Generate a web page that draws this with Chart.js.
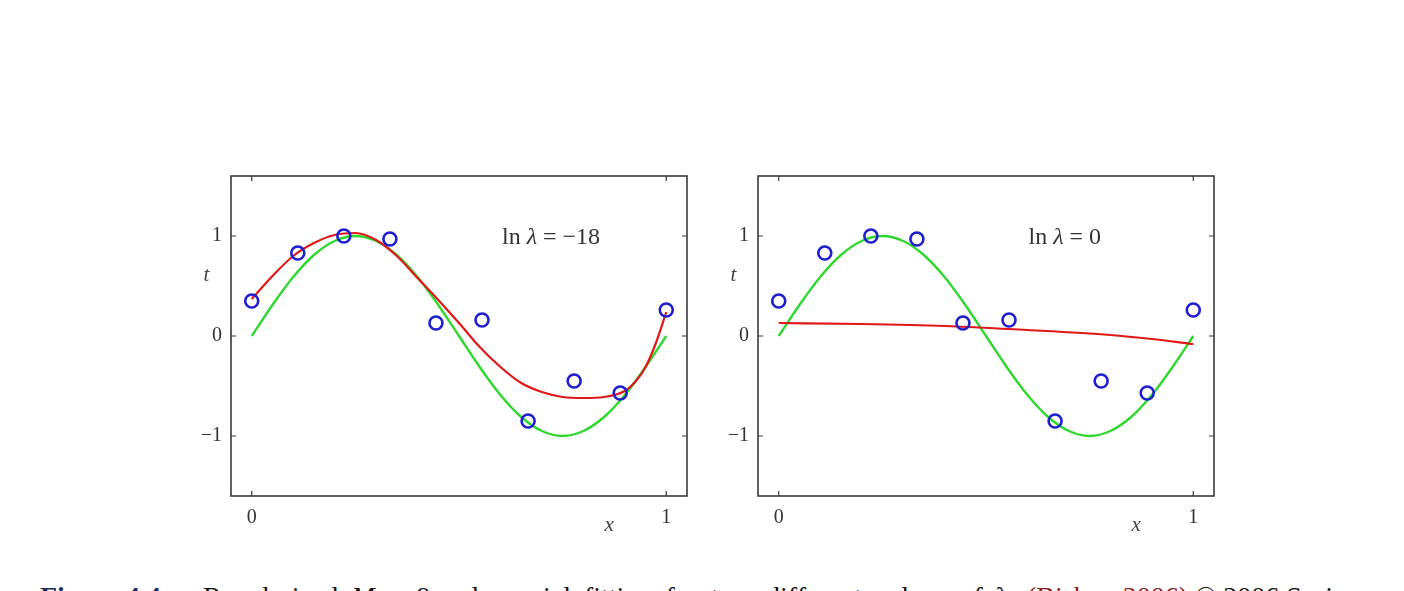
<!DOCTYPE html>
<html>
<head>
<meta charset="utf-8">
<script src="https://cdn.jsdelivr.net/npm/chart.js@4.4.0/dist/chart.umd.min.js"></script>
<style>
  html, body { margin: 0; padding: 0; background: #fff; width: 1404px; height: 591px; overflow: hidden; }
  canvas { position: absolute; }
  #leftChart { left: 140px; top: 150px; }
  #rightChart { left: 667px; top: 150px; }
  .cap { position: absolute; top: 583px; font-family: "Liberation Serif", serif; font-size: 28px; line-height: 28px; white-space: nowrap; color: #111; }
</style>
</head>
<body>
<canvas id="leftChart" width="570" height="410"></canvas>
<canvas id="rightChart" width="570" height="410"></canvas>
<div class="cap" style="left:40px; color:#1b2a6b; font-weight:bold;">Figure 4.4</div>
<div class="cap" style="left:203px; word-spacing:6px;">Regularized <i>M</i> = 9 polynomial fitting for two different values of λ</div>
<div class="cap" style="left:1027px; color:#8b1a1a;">(Bishop 2006)</div>
<div class="cap" style="left:1195px;">© 2006 Springer</div>
<script>
// observed data points (blue circles)
const pointX = [0, 1/9, 2/9, 3/9, 4/9, 5/9, 6/9, 7/9, 8/9, 1];
const pointT = [0.35, 0.83, 1.00, 0.97, 0.13, 0.16, -0.85, -0.45, -0.57, 0.26];

// green curve
const greenX = [0, 0.05, 0.1, 0.15, 0.2, 0.25, 0.3, 0.35, 0.4, 0.45, 0.5, 0.55, 0.6, 0.65, 0.7, 0.75, 0.8, 0.85, 0.9, 0.95, 1];
const greenT = [0, 0.31, 0.59, 0.81, 0.95, 1.0, 0.95, 0.81, 0.59, 0.31, 0, -0.31, -0.59, -0.81, -0.95, -1.0, -0.95, -0.81, -0.59, -0.31, 0];

// red fit, ln lambda = -18
const redX18 = [0, 0.05, 0.1, 0.15, 0.2, 0.25, 0.3, 0.35, 0.4, 0.45, 0.5, 0.55, 0.6, 0.65, 0.7, 0.75, 0.8, 0.85, 0.9, 0.925, 0.95, 0.975, 1];
const redT18 = [0.37, 0.6, 0.8, 0.93, 1.01, 1.03, 0.96, 0.8, 0.58, 0.36, 0.13, -0.11, -0.31, -0.47, -0.56, -0.61, -0.62, -0.61, -0.55, -0.46, -0.31, -0.07, 0.24];

// red fit, ln lambda = 0
const redX0 = [0, 0.2, 0.4, 0.6, 0.8, 0.9, 1];
const redT0 = [0.13, 0.12, 0.1, 0.06, 0.01, -0.03, -0.08];

const xTicks = [0, 1];
const yTicks = [-1, 0, 1];

function pairs(xs, ys) {
  return xs.map((v, i) => ({x: v, y: ys[i]}));
}

function tickText(v) {
  return v < 0 ? '\u2212' + Math.abs(v) : String(v);
}

// box round the plot, inward ticks, axis letters and the ln lambda label
const framePlugin = {
  id: 'frame',
  afterDraw(chart) {
    const ctx = chart.ctx;
    const a = chart.chartArea;
    const sx = chart.scales.x, sy = chart.scales.y;
    ctx.save();
    ctx.strokeStyle = '#3a3a3a';
    ctx.lineWidth = 1.6;
    ctx.strokeRect(a.left, a.top, a.right - a.left, a.bottom - a.top);
    ctx.lineWidth = 1.2;
    ctx.beginPath();
    xTicks.forEach(v => {
      const px = sx.getPixelForValue(v);
      ctx.moveTo(px, a.bottom); ctx.lineTo(px, a.bottom - 5);
      ctx.moveTo(px, a.top); ctx.lineTo(px, a.top + 5);
    });
    yTicks.forEach(v => {
      const py = sy.getPixelForValue(v);
      ctx.moveTo(a.left, py); ctx.lineTo(a.left + 5, py);
      ctx.moveTo(a.right, py); ctx.lineTo(a.right - 5, py);
    });
    ctx.stroke();

    ctx.fillStyle = '#444';
    ctx.textAlign = 'center';
    ctx.textBaseline = 'middle';
    ctx.font = 'italic 21px "Liberation Serif"';
    ctx.fillText('t', sx.getPixelForValue(-0.109), sy.getPixelForValue(0.61));
    ctx.fillText('x', sx.getPixelForValue(0.862), sy.getPixelForValue(-1.89));

    // "ln λ = value"
    const lab = chart.options.plugins.frame.label;
    const f = '24px "Liberation Serif"';
    const parts = [['ln ', f], ['λ', 'italic ' + f], [' = ' + lab.text, f]];
    let total = 0;
    parts.forEach(p => { ctx.font = p[1]; total += ctx.measureText(p[0]).width; });
    let cx = sx.getPixelForValue(lab.x) - total / 2;
    const cy = sy.getPixelForValue(lab.y);
    ctx.textAlign = 'left';
    ctx.fillStyle = '#333';
    parts.forEach(p => {
      ctx.font = p[1];
      ctx.fillText(p[0], cx, cy);
      cx += ctx.measureText(p[0]).width;
    });
    ctx.restore();
  }
};

function makeChart(id, redX, redT, label) {
  const ctx = document.getElementById(id).getContext('2d');
  return new Chart(ctx, {
    type: 'scatter',
    data: {
      datasets: [
        {
          label: 'data',
          data: pairs(pointX, pointT),
          showLine: false,
          pointRadius: 6.5,
          pointBorderWidth: 2.6,
          pointBorderColor: '#1f1fd0',
          pointBackgroundColor: 'rgba(0,0,0,0)',
          order: 0
        },
        {
          label: 'fit',
          data: pairs(redX, redT),
          showLine: true,
          borderColor: '#e01818',
          borderWidth: 2.2,
          pointRadius: 0,
          cubicInterpolationMode: 'monotone',
          order: 1
        },
        {
          label: 'sin',
          data: pairs(greenX, greenT),
          showLine: true,
          borderColor: '#2fd82f',
          borderWidth: 2.4,
          pointRadius: 0,
          tension: 0.35,
          order: 2
        }
      ]
    },
    options: {
      responsive: false,
      animation: false,
      layout: { padding: { left: 0, right: 23, top: 26, bottom: 0 } },
      plugins: {
        legend: { display: false },
        tooltip: { enabled: false },
        frame: { label: label }
      },
      scales: {
        x: {
          type: 'linear',
          min: -0.05,
          max: 1.05,
          grid: { display: false, drawTicks: false },
          border: { display: false },
          afterBuildTicks: s => { s.ticks = xTicks.map(v => ({value: v})); },
          afterFit: s => { s.height = 64; },
          ticks: {
            padding: 10,
            color: '#333',
            font: { family: 'Liberation Serif', size: 20 },
            callback: v => tickText(v)
          }
        },
        y: {
          type: 'linear',
          min: -1.6,
          max: 1.6,
          grid: { display: false, drawTicks: false },
          border: { display: false },
          afterBuildTicks: s => { s.ticks = yTicks.map(v => ({value: v})); },
          afterFit: s => { s.width = 91; },
          ticks: {
            padding: 9,
            color: '#333',
            font: { family: 'Liberation Serif', size: 20 },
            callback: v => tickText(v)
          }
        }
      }
    },
    plugins: [framePlugin]
  });
}

makeChart('leftChart', redX18, redT18, {text: '\u221218', x: 0.722, y: 0.98});
makeChart('rightChart', redX0, redT0, {text: '0', x: 0.69, y: 0.98});
</script>
</body>
</html>
